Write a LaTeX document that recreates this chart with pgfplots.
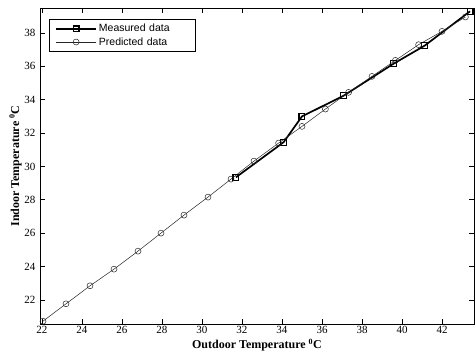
\documentclass[border=0pt]{standalone}
\usepackage{pgfplots}
\pgfplotsset{compat=1.18}
\usepackage{fontspec}
\setmainfont{Liberation Serif}
\newfontfamily\legfont{Liberation Sans}
\begin{document}
\begin{tikzpicture}
\begin{axis}[
  scale only axis,
  width=434pt, height=316pt,
  xmin=21.9, xmax=43.6, ymin=20.55, ymax=39.5,
  xtick={22,24,...,42}, ytick={22,24,...,38},
  tick align=inside, tick pos=both,
  major tick length=5pt,
  axis line style={line width=0.8pt},
  tick style={black, line width=0.6pt},
  /pgf/number format/assume math mode=true,
  ticklabel style={font=\fontsize{11}{12}\selectfont},
  xticklabel style={yshift=1pt},
  yticklabel style={xshift=-1pt},
  xlabel={\textbf{Outdoor Temperature $^{\mathbf{0}}$C}},
  ylabel={\textbf{Indoor Temperature $^{\mathbf{0}}$C}},
  label style={font=\fontsize{12}{13}\selectfont},
  xlabel style={yshift=2pt},
  ylabel style={yshift=-4pt},
  legend style={at={(0.0207,0.965)}, anchor=north west, draw=black, line width=0.6pt,
    font=\legfont\fontsize{10.5}{12}\selectfont, inner xsep=6pt, inner ysep=3pt, row sep=0pt,
    nodes={text width=88pt, inner xsep=2pt}},
  legend cell align=left,
  legend image code/.code={\draw[mark repeat=2,mark phase=2,#1] plot coordinates {(0pt,0pt) (20pt,0pt) (40pt,0pt)};},
]
\addplot[black, line width=1.7pt, mark=square, mark size=2.9pt, mark options={line width=1.2pt, solid}]
coordinates {
(31.7,29.35) (34.08,31.45) (35.0,33.0) (37.08,34.24) (39.58,36.16) (41.13,37.24) (43.4,39.3)
};
\addlegendentry{Measured data}
\addplot[black!85, line width=0.5pt, mark=o, mark size=3pt, mark options={line width=0.5pt}]
coordinates {
(22.05,20.72) (23.2,21.76) (24.4,22.84) (25.6,23.84) (26.8,24.92) (27.95,26.0) (29.1,27.08)
(30.3,28.16) (31.45,29.24) (32.6,30.32) (33.83,31.4) (35.0,32.4) (36.17,33.44) (37.33,34.44)
(38.5,35.4) (39.67,36.36) (40.83,37.3) (42.0,38.1) (43.17,38.96)
};
\addlegendentry{Predicted data}
\end{axis}
\pgfresetboundingbox
\path[use as bounding box] (current axis.south west) ++(-40pt,-32pt) rectangle ([xshift=1pt,yshift=8pt]current axis.north east);
\end{tikzpicture}
\end{document}
